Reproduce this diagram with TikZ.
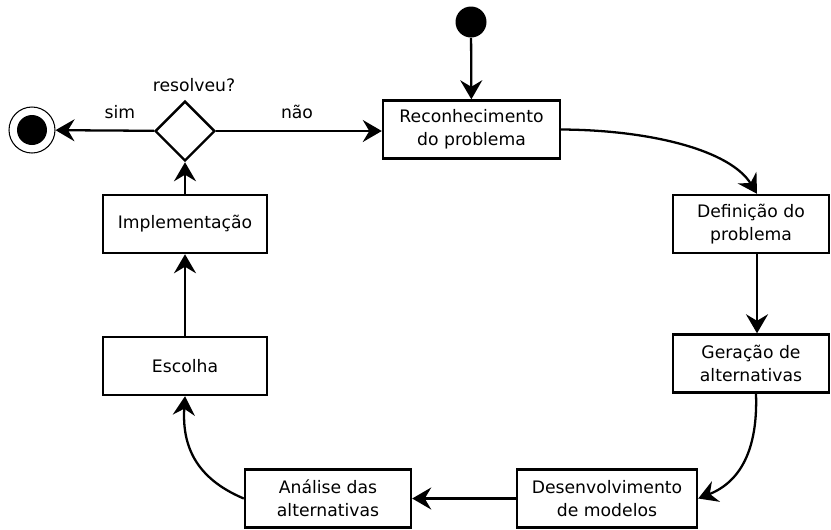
\documentclass[tikz,border=0pt]{standalone}
\usepackage{fontspec}
\setmainfont{DejaVu Sans}
\usetikzlibrary{arrows.meta,shapes.geometric}

\tikzset{
  etapa/.style={draw, line width=1.4pt, minimum height=1.16cm, align=center,
    inner sep=0pt, font=\fontsize{9.8}{13}\selectfont},
  fluxo/.style={line width=1.3pt, -{Stealth[length=0.38cm, width=0.44cm, inset=0.13cm]}},
  rotulo/.style={font=\fontsize{9.8}{13}\selectfont},
}

\begin{document}
\begin{tikzpicture}[x=0.02cm, y=0.02cm]
  \useasboundingbox (0,0) rectangle (831,-529);

  %%%%% inicio e fim %%%%%
  \node[circle, fill=black, minimum size=0.62cm, inner sep=0pt] (inicio) at (471,-22) {};
  \node[circle, draw, line width=0.6pt, minimum size=0.92cm, inner sep=0pt] (fim) at (32,-130) {};
  \node[circle, fill=black, minimum size=0.6cm, inner sep=0pt] (fimdot) at (fim.center) {};

  %%%%% etapas %%%%%
  \node[etapa, minimum width=3.54cm] (reconh) at (471.5,-129.5) {Reconhecimento\\do problema};
  \node[etapa, minimum width=3.12cm] (defin) at (751,-224) {Definição do\\problema};
  \node[etapa, minimum width=3.12cm] (geracao) at (751,-363.5) {Geração de\\alternativas};
  \node[etapa, minimum width=3.6cm] (desenv) at (607,-498.5) {Desenvolvimento\\de modelos};
  \node[etapa, minimum width=3.32cm] (analise) at (328,-498.5) {Análise das\\alternativas};
  \node[etapa, minimum width=3.28cm] (escolha) at (185,-366) {Escolha};
  \node[etapa, minimum width=3.28cm] (implem) at (185,-224) {Implementação};

  \node[diamond, draw, line width=1.4pt, minimum width=1.2cm, minimum height=1.2cm,
    inner sep=0pt] (decisao) at (185,-131) {};

  %%%%% rotulos %%%%%
  \node[rotulo] (resolveu) at (194,-85) {resolveu?};
  \node[rotulo] (sim) at (120,-112) {sim};
  \node[rotulo] (nao) at (297,-112) {não};

  %%%%% fluxos %%%%%
  \draw[fluxo] (inicio) -- (reconh);
  \draw[fluxo] (decisao) -- (fim);
  \draw[fluxo] (decisao.east) -- (decisao.east -| reconh.west);
  \draw[fluxo] (reconh.east) .. controls (650,-130) and (730,-150) .. ([xshift=0.12cm]defin.north);
  \draw[fluxo] ([xshift=0.12cm]defin.south) -- ([xshift=0.12cm]geracao.north);
  \draw[fluxo] ([xshift=0.1cm]geracao.south) .. controls (758,-450) and (740,-482) .. (desenv.east);
  \draw[fluxo] (desenv) -- (analise);
  \draw[fluxo] (analise.west) .. controls (195,-478) and (182,-445) .. (escolha.south);
  \draw[fluxo] (escolha) -- (implem);
  \draw[fluxo] (implem) -- (decisao);

\end{tikzpicture}
\end{document}
